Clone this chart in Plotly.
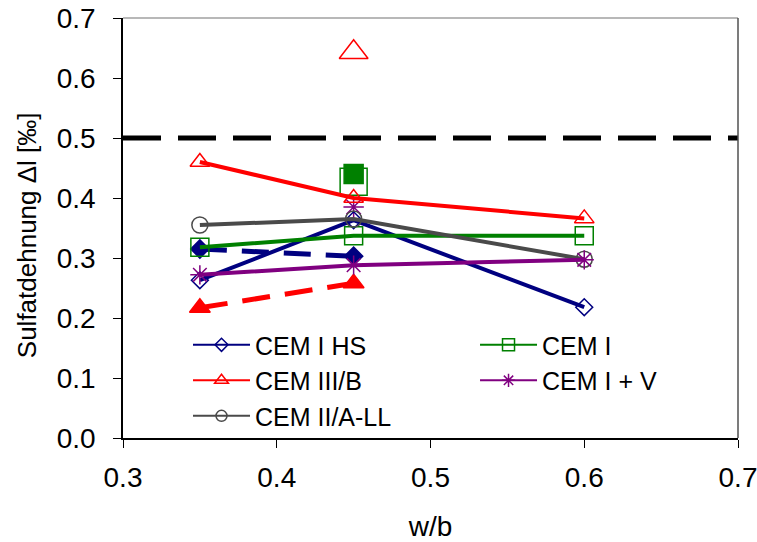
import plotly.graph_objects as go

# water/binder ratios
wb = [0.35, 0.45, 0.6]
wb_short = [0.35, 0.45]

# sulfate expansion [‰]
cem1_hs = [0.263, 0.363, 0.218]
cem1_hs_b = [0.315, 0.303]
cem1 = [0.318, 0.337, 0.337]
cem1_extra_filled = [0.44]
cem1_extra_open = [0.427]
cem3b = [0.46, 0.40, 0.366]
cem3b_extra = [0.643]
cem3b_b = [0.217, 0.258]
cem1v = [0.272, 0.288, 0.297]
cem1v_extra = [0.385]
cem2all = [0.355, 0.365, 0.298]

limit_x = [0.3, 0.7]
limit_y = [0.5, 0.5]

x_ticks = [0.3, 0.4, 0.5, 0.6, 0.7]
x_ticklabels = ["0.3", "0.4", "0.5", "0.6", "0.7"]
y_ticks = [0, 0.1, 0.2, 0.3, 0.4, 0.5, 0.6, 0.7]
y_ticklabels = ["0.0", "0.1", "0.2", "0.3", "0.4", "0.5", "0.6", "0.7"]

NAVY = "#000080"
GREEN = "#008000"
RED = "#FF0000"
PURPLE = "#800080"
GRAY = "#4A4A4A"

FONT = "Liberation Sans, Arial, sans-serif"

fig = go.Figure()

# limit line
fig.add_trace(go.Scatter(x=limit_x, y=limit_y, mode="lines",
                         line=dict(color="black", width=5, dash="38px,17px"),
                         showlegend=False, hoverinfo="skip"))


def series(x, y, color, symbol, size, dash="solid", width=4, mode="lines+markers", lw=1.5):
    fig.add_trace(go.Scatter(
        x=x, y=y, mode=mode,
        line=dict(color=color, width=width, dash=dash),
        marker=dict(symbol=symbol, size=size, color=color,
                    line=dict(color=color, width=lw)),
        showlegend=False))


# dashed companion series
series(wb_short, cem1_hs_b, NAVY, "diamond", 14, dash="27px,15px", width=5)
series(wb_short, cem3b_b, RED, "triangle-up", 18, dash="28px,15px", width=5)

# isolated single values
series([0.45], cem3b_extra, RED, "triangle-up-open", 25, mode="markers")
series([0.45], cem1_extra_open, GREEN, "square-open", 27, mode="markers")
series([0.45], cem1_extra_filled, GREEN, "square", 19, mode="markers")
series([0.45], cem1v_extra, PURPLE, "asterisk-open", 17, mode="markers")

# main series
series(wb, cem1_hs, NAVY, "diamond-open", 13)
series(wb, cem1, GREEN, "square-open", 18)
series(wb, cem3b, RED, "triangle-up-open", 17)
series(wb, cem2all, GRAY, "circle-open", 16)
series(wb, cem1v, PURPLE, "asterisk-open", 16)

# legend entries, two columns
legend_items = [
    ("CEM I HS", NAVY, "diamond-open", 10, "legend"),
    ("CEM III/B", RED, "triangle-up-open", 12, "legend"),
    ("CEM II/A-LL", GRAY, "circle-open", 11, "legend"),
    ("CEM I", GREEN, "square-open", 12, "legend2"),
    ("CEM I + V", PURPLE, "asterisk-open", 11, "legend2"),
]
for name, color, symbol, msize, lg in legend_items:
    fig.add_trace(go.Scatter(
        x=[None], y=[None], mode="lines+markers", name=name, legend=lg,
        line=dict(color=color, width=2),
        marker=dict(symbol=symbol, size=msize, color=color, line=dict(color=color, width=1.5)),
        showlegend=True))

legend_style = dict(orientation="v", xanchor="left", yanchor="top", itemwidth=57,
                    bgcolor="rgba(0,0,0,0)", font=dict(size=25, family=FONT),
                    tracegroupgap=0, traceorder="normal")

fig.update_layout(
    width=757, height=542,
    margin=dict(l=123, r=19, t=18, b=104),
    paper_bgcolor="white", plot_bgcolor="white",
    font=dict(family=FONT, size=28, color="black"),
    showlegend=True,
    legend=dict(x=0.1057, y=0.276, **legend_style),
    legend2=dict(x=0.5724, y=0.276, **legend_style),
    xaxis=dict(range=[0.3, 0.7], tickvals=x_ticks, ticktext=x_ticklabels,
               showgrid=False, zeroline=False, showline=True, linecolor="black",
               linewidth=1.5, ticks="outside", ticklen=8, tickcolor="black",
               ticklabelstandoff=6, ticklabeloverflow="allow",
               automargin=False, tickfont=dict(size=28),
               title=dict(text="w/b", standoff=30, font=dict(size=28))),
    yaxis=dict(range=[0, 0.7], tickvals=y_ticks, ticktext=y_ticklabels,
               showgrid=False, zeroline=False, showline=True, linecolor="black",
               linewidth=1.5, ticks="outside", ticklen=8, tickcolor="black",
               ticklabelstandoff=12, ticklabeloverflow="allow",
               automargin=False, tickfont=dict(size=28)),
)

# y-axis title
fig.add_annotation(text="Sulfatdehnung Δl [‰]", xref="paper", yref="paper",
                   x=-0.156, y=0.483, xanchor="center", yanchor="middle",
                   textangle=-90, showarrow=False, font=dict(size=26, family=FONT))

# upper and right frame edges
fig.add_shape(type="line", xref="paper", yref="paper", x0=0, x1=1, y0=1, y1=1,
              line=dict(color="#A0A0A0", width=1.5))
fig.add_shape(type="line", xref="paper", yref="paper", x0=1, x1=1, y0=0, y1=1,
              line=dict(color="#505050", width=1.5))

fig.write_html("out.html")
